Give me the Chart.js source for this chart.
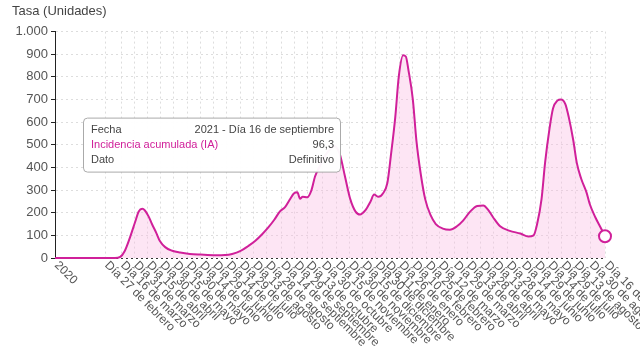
<!DOCTYPE html>
<html>
<head>
<meta charset="utf-8">
<script src="https://cdn.jsdelivr.net/npm/chart.js@4"></script>
<style>
    html, body { margin: 0; padding: 0; background: #fff; }
    #wrap { width: 640px; height: 360px; }
</style>
</head>
<body>
<div id="wrap"><canvas id="tasaChart"></canvas></div>
<script>
// dias desde el 1 de enero de 2020
const tickDays = [0, 57, 75, 90, 105, 120, 135, 150, 165, 180, 195, 210, 225, 240, 257, 272, 286, 303,
    319, 334, 349, 364, 376, 391, 406, 421, 436, 453, 468, 483, 498, 513, 530, 545, 560, 575, 590, 607, 624];
const tickLabels = ['2020', 'Día 27 de febrero', 'Día 16 de marzo', 'Día 31 de marzo', 'Día 15 de abril',
    'Día 30 de abril', 'Día 15 de mayo', 'Día 30 de mayo', 'Día 14 de junio', 'Día 29 de junio',
    'Día 14 de julio', 'Día 29 de julio', 'Día 13 de agosto', 'Día 28 de agosto', 'Día 14 de septiembre',
    'Día 29 de septiembre', 'Día 13 de octubre', 'Día 30 de octubre', 'Día 15 de noviembre',
    'Día 30 de noviembre', 'Día 15 de diciembre', 'Día 30 de diciembre', 'Día 11 de enero',
    'Día 26 de enero', 'Día 10 de febrero', 'Día 25 de febrero', 'Día 12 de marzo', 'Día 29 de marzo',
    'Día 13 de abril', 'Día 28 de abril', 'Día 13 de mayo', 'Día 28 de mayo', 'Día 14 de junio',
    'Día 29 de junio', 'Día 14 de julio', 'Día 29 de julio', 'Día 13 de agosto', 'Día 30 de agosto',
    'Día 16 de septiembre'];

const days = [0, 51, 68, 74, 79, 85, 91, 95, 99, 102, 106, 110, 115, 119, 125, 133, 142, 153, 165, 182,
    193, 201, 210, 219, 227, 235, 242, 249, 255, 261, 267, 271, 275, 278, 281, 286, 291, 295, 301, 306,
    312, 317, 323, 329, 335, 341, 346, 352, 358, 362, 367, 372, 377, 381, 386, 390, 395, 398, 401, 406,
    410, 415, 420, 426, 432, 440, 448, 456, 463, 471, 479, 486, 491, 497, 505, 516, 528, 537, 543, 547,
    552, 556, 561, 565, 570, 574, 579, 583, 588, 592, 597, 603, 607, 613, 619, 624];
const tasa = [0, 0, 0, 5, 30, 90, 160, 205, 217, 210, 185, 150, 110, 75, 48, 32, 24, 18, 15, 12,
    13, 18, 30, 52, 75, 105, 135, 170, 205, 225, 262, 285, 290, 262, 270, 268, 300, 360, 410, 450,
    480, 495, 460, 360, 260, 205, 192, 210, 250, 280, 270, 285, 330, 450, 620, 800, 895, 890, 830, 700,
    520, 370, 260, 190, 150, 130, 125, 140, 165, 205, 230, 232, 215, 180, 140, 120, 108, 95, 100, 150,
    260, 420, 570, 660, 695, 700, 680, 620, 520, 420, 350, 290, 235, 180, 135, 96.3];

const lineColor = '#d0209a';

function formatMiles(v) {
    return String(v).replace(/\B(?=(\d{3})+(?!\d))/g, '.');
}

// etiquetas del eje x giradas hacia abajo a la derecha
const xLabelsPlugin = {
    id: 'xLabels',
    afterDraw(chart) {
        const ctx = chart.ctx;
        const xScale = chart.scales.x;
        const bottom = chart.chartArea.bottom;
        ctx.save();
        ctx.font = '12px "Liberation Sans", Arial, sans-serif';
        ctx.fillStyle = '#555';
        ctx.textAlign = 'left';
        ctx.textBaseline = 'middle';
        tickDays.forEach((d, i) => {
            const x = xScale.getPixelForValue(d);
            ctx.save();
            ctx.translate(x, bottom + 4);
            ctx.rotate(Math.PI / 4);
            ctx.fillText(tickLabels[i], 2, 0);
            ctx.restore();
        });
        ctx.restore();
    }
};

// caja de informacion fija (como el tooltip de la imagen)
const infoBoxPlugin = {
    id: 'infoBox',
    afterDraw(chart) {
        const ctx = chart.ctx;
        const area = chart.chartArea;
        const bx = area.left + 28, by = area.top + 86, bw = 257, bh = 54;
        ctx.save();
        ctx.fillStyle = 'rgba(255,255,255,0.96)';
        ctx.strokeStyle = '#aaa';
        ctx.lineWidth = 1;
        ctx.beginPath();
        ctx.roundRect(bx + 0.5, by + 0.5, bw, bh, 4);
        ctx.fill();
        ctx.stroke();
        ctx.font = '11px "Liberation Sans", Arial, sans-serif';
        ctx.textBaseline = 'middle';
        const rows = [
            ['Fecha', '2021 - Día 16 de septiembre', '#444'],
            ['Incidencia acumulada (IA)', formatMiles(tasa[tasa.length - 1]).replace('.', ','), lineColor],
            ['Dato', 'Definitivo', '#444']
        ];
        rows.forEach((r, i) => {
            const y = by + 12 + i * 15;
            ctx.textAlign = 'left';
            ctx.fillStyle = r[2];
            ctx.fillText(r[0], bx + 8, y);
            ctx.textAlign = 'right';
            ctx.fillStyle = '#444';
            ctx.fillText(r[1], bx + bw - 6, y);
        });
        ctx.restore();
    }
};

const lastIndex = tasa.length - 1;

new Chart(document.getElementById('tasaChart'), {
    type: 'line',
    data: {
        datasets: [{
            label: 'Incidencia acumulada (IA)',
            data: days.map((d, i) => ({ x: d, y: tasa[i] })),
            borderColor: lineColor,
            backgroundColor: 'rgba(250, 190, 228, 0.4)',
            borderWidth: 2,
            fill: 'origin',
            cubicInterpolationMode: 'monotone',
            pointRadius: ctx => ctx.dataIndex === lastIndex ? 6 : 0,
            pointBackgroundColor: '#fff',
            pointBorderColor: lineColor,
            pointBorderWidth: 2,
            clip: false
        }]
    },
    options: {
        responsive: true,
        maintainAspectRatio: false,
        animation: false,
        layout: { padding: { left: 12, right: 35, top: 0, bottom: 0 } },
        plugins: {
            legend: { display: false },
            tooltip: { enabled: false },
            title: {
                display: true,
                text: 'Tasa (Unidades)',
                align: 'start',
                color: '#444',
                font: { family: '"Liberation Sans", Arial, sans-serif', size: 13, weight: 'normal' },
                padding: { top: 4, bottom: 12 }
            }
        },
        scales: {
            x: {
                type: 'linear',
                min: 0,
                max: 624,
                afterBuildTicks: scale => {
                    scale.ticks = tickDays.map(v => ({ value: v }));
                },
                afterFit: scale => { scale.height = 102; },
                ticks: { display: false },
                grid: { color: '#ddd', tickLength: 0, drawTicks: false },
                border: { display: false, dash: [2, 3] }
            },
            y: {
                min: 0,
                max: 1000,
                afterFit: scale => { scale.width = 43; },
                ticks: {
                    stepSize: 100,
                    color: '#555',
                    padding: 3,
                    font: { family: '"Liberation Sans", Arial, sans-serif', size: 13 },
                    callback: v => formatMiles(v)
                },
                grid: {
                    color: ctx => ctx.tick && ctx.tick.value === 0 ? '#333' : '#ddd',
                    tickColor: '#222',
                    tickLength: 4
                },
                border: { display: true, color: '#222', width: 1, dash: [2, 3] }
            }
        }
    },
    plugins: [xLabelsPlugin, infoBoxPlugin]
});
</script>
</body>
</html>
